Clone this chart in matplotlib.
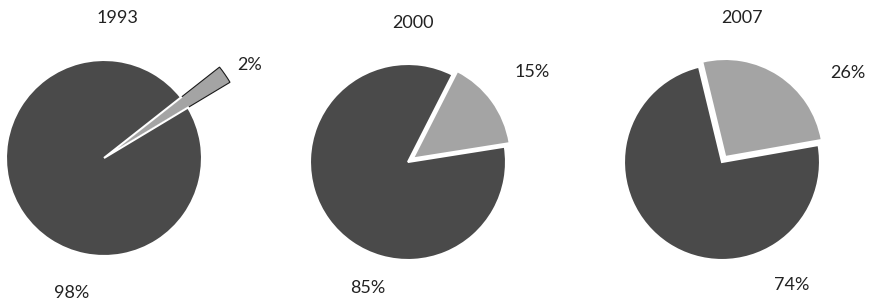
import matplotlib
matplotlib.use('Agg')
import matplotlib.pyplot as plt

# Данные
years = ['1993', '2000', '2007']
small_share = [2, 15, 26]
large_share = [98, 85, 74]

# Раскладка (в пикселях, ось y вверх)
centers = [(104, 148), (408, 144), (722, 144)]
radius = 98
start_angles = [31, 9, 10]
explodes = [0, 6, 6]          # в пикселях
title_pos = [(117, 288), (413, 283), (742, 288)]
small_pos = [(250, 241), (532, 234), (848, 233)]
large_pos = [(72, 13), (368, 18), (792, 21)]

light = '#a4a4a4'
dark = '#4a4a4a'

plt.rcParams['font.family'] = ['Lato', 'DejaVu Sans']

fig = plt.figure(figsize=(8.75, 3.06), dpi=100)
ax = fig.add_axes([0, 0, 1, 1])

for i in range(len(years)):
    wedges, _ = ax.pie([small_share[i], large_share[i]],
                       colors=[light, dark],
                       startangle=start_angles[i],
                       counterclock=True,
                       explode=[explodes[i], 0],
                       center=centers[i], radius=radius,
                       wedgeprops=dict(edgecolor='white', linewidth=1.5))
    if i == 0:
        # тонкий сектор 1993 года выходит за круг
        wedges[0].set_radius(radius * 1.5)
        wedges[0].set_edgecolor('#1a1a1a')
        wedges[0].set_linewidth(0.8)

    ax.text(title_pos[i][0], title_pos[i][1], years[i],
            ha='center', va='center', fontsize=13, color='#222222')
    ax.text(small_pos[i][0], small_pos[i][1], f'{small_share[i]}%',
            ha='center', va='center', fontsize=13, color='#222222')
    ax.text(large_pos[i][0], large_pos[i][1], f'{large_share[i]}%',
            ha='center', va='center', fontsize=13, color='#222222')

ax.set_xlim(0, 875)
ax.set_ylim(0, 306)
ax.set_aspect('auto')
ax.axis('off')

fig.savefig('out.png', dpi=100)
